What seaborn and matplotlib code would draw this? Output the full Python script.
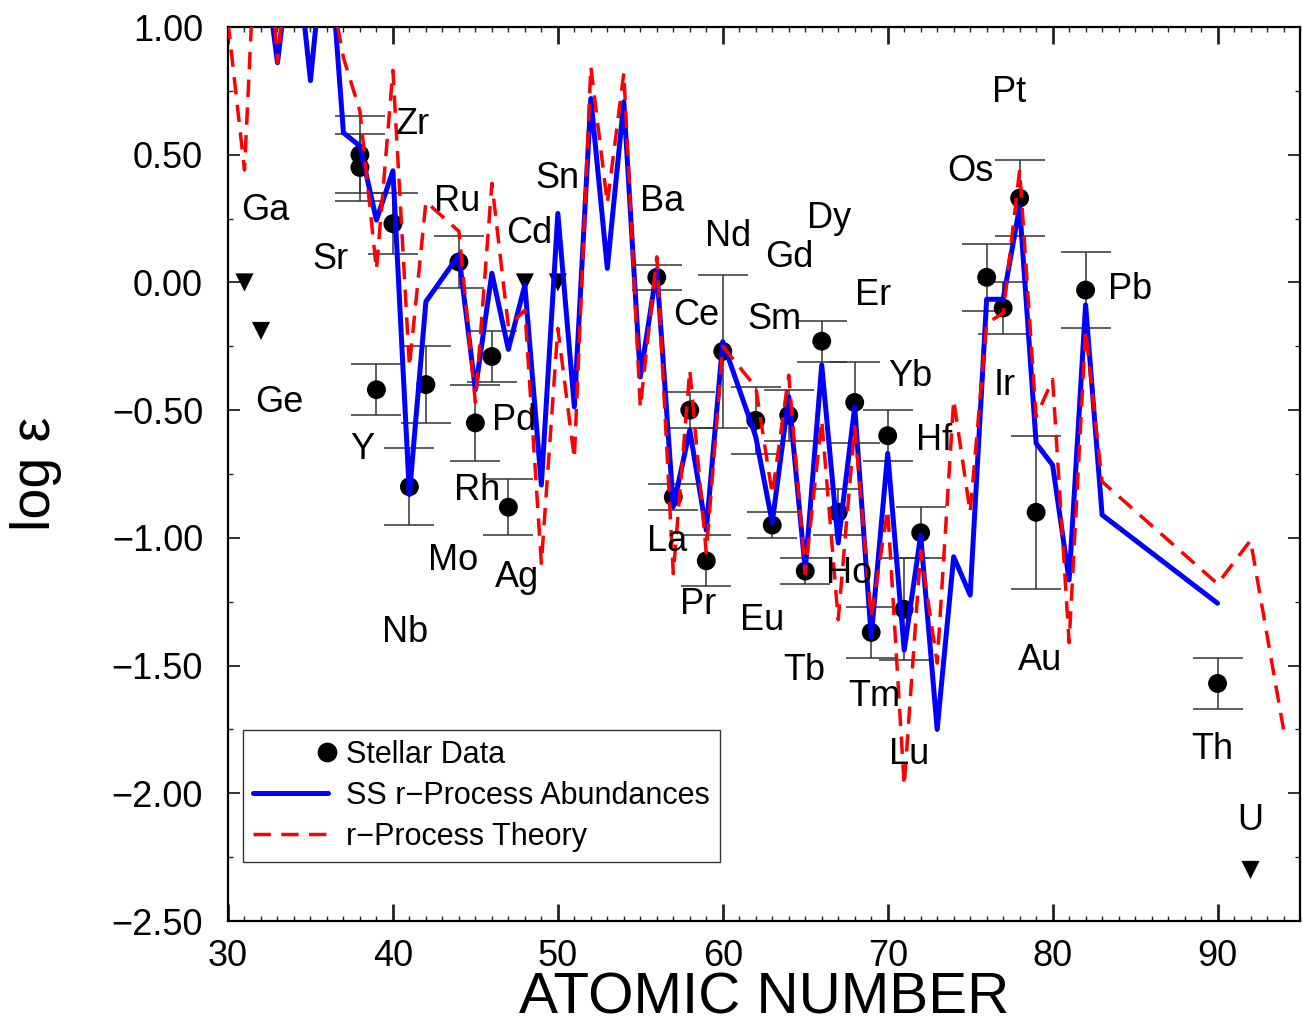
import numpy as np
import pandas as pd
import matplotlib
matplotlib.use("Agg")
import matplotlib.pyplot as plt
import seaborn as sns
from matplotlib.lines import Line2D
from matplotlib.legend_handler import HandlerLine2D
from matplotlib.ticker import MultipleLocator, FuncFormatter

# ---------------- data ----------------
# stellar abundances with error bars
star_z = [38, 38, 39, 40, 41, 42, 44, 45, 46, 47, 56, 57, 58, 59, 60, 62, 63, 64,
          65, 66, 67, 68, 69, 70, 71, 72, 76, 77, 78, 79, 82, 90]
star_val = [0.50, 0.45, -0.42, 0.23, -0.80, -0.40, 0.08, -0.55, -0.29, -0.88,
            0.02, -0.84, -0.50, -1.09, -0.27, -0.54, -0.95, -0.52, -1.13, -0.23,
            -0.90, -0.47, -1.37, -0.60, -1.28, -0.98, 0.02, -0.10, 0.33, -0.90,
            -0.03, -1.57]
star_err = [0.15, 0.13, 0.10, 0.12, 0.15, 0.15, 0.10, 0.15, 0.10, 0.11,
            0.05, 0.05, 0.07, 0.10, 0.30, 0.13, 0.05, 0.10, 0.05, 0.08,
            0.09, 0.16, 0.10, 0.10, 0.20, 0.10, 0.13, 0.10, 0.15, 0.30,
            0.15, 0.10]

# upper limits
limit_z = [31, 32, 48, 50, 92]
limit_val = [0.00, -0.19, 0.00, 0.00, -2.30]

# solar-system r-process abundances
ss_z = [32, 33, 34, 35, 36, 37, 38, 39, 40, 41, 42, 44, 45, 46, 47, 48, 49, 50,
        51, 52, 53, 54, 55, 56, 57, 58, 59, 60, 62, 63, 64, 65, 66, 67, 68, 69,
        70, 71, 72, 73, 74, 75, 76, 77, 78, 79, 80, 81, 82, 83, 90]
ss_val = [1.36, 0.86, 1.40, 0.79, 1.45, 0.586, 0.534, 0.244, 0.437, -0.83,
          -0.075, 0.107, -0.42, 0.036, -0.262, -0.01, -0.793, 0.27, -0.487,
          0.72, 0.055, 0.707, -0.37, 0.049, -0.878, -0.578, -0.97, -0.232,
          -0.604, -0.94, -0.447, -1.126, -0.323, -1.02, -0.487, -1.387, -0.669,
          -1.44, -0.99, -1.75, -1.074, -1.224, -0.066, -0.066, 0.296, -0.63,
          -0.715, -1.165, -0.088, -0.91, -1.256]

# r-process theory
th_z = [30, 31, 32, 33, 34, 35, 36, 37, 38, 39, 40, 41, 42, 44, 45, 46, 47, 48,
        49, 50, 51, 52, 53, 54, 55, 56, 57, 58, 59, 60, 61, 62, 63, 64, 65, 66,
        67, 68, 69, 70, 71, 72, 73, 74, 75, 76, 77, 78, 79, 80, 81, 82, 83, 90,
        92, 94]
th_val = [1.02, 0.44, 1.81, 0.86, 1.50, 1.30, 1.23, 0.88, 0.67, 0.05, 0.83,
          -0.33, 0.316, 0.20, -0.47, 0.388, -0.173, -0.108, -1.10, -0.18, -0.69,
          0.845, 0.31, 0.82, -0.49, 0.10, -1.14, -0.343, -1.06, -0.25, -0.33,
          -0.41, -0.83, -0.363, -1.14, -0.54, -1.32, -0.565, -1.31, -0.89, -1.97,
          -1.05, -1.49, -0.46, -0.90, -0.16, -0.12, 0.44, -0.526, -0.38, -1.41,
          -0.19, -0.78, -1.18, -1.01, -1.75]

# element labels
elem_names = ["Ga", "Ge", "Sr", "Y", "Zr", "Nb", "Mo", "Ru", "Rh", "Pd", "Ag",
              "Cd", "Sn", "Ba", "La", "Ce", "Pr", "Nd", "Sm", "Eu", "Gd", "Tb",
              "Dy", "Ho", "Er", "Tm", "Yb", "Lu", "Hf", "Os", "Ir", "Pt", "Au",
              "Pb", "Th", "U"]
elem_label_x = [32.24, 33.09, 36.23, 38.11, 41.2, 40.71, 43.68, 43.92, 45.13,
                47.37, 47.55, 48.28, 49.98, 56.33, 56.63, 58.39, 58.51, 60.33,
                63.11, 62.38, 64.02, 64.93, 66.44, 67.65, 69.1, 69.16, 71.34,
                71.28, 72.8, 75.04, 77.09, 77.34, 79.21, 84.72, 89.69, 91.99]
elem_label_y = [0.28, -0.47, 0.088, -0.655, 0.62, -1.37, -1.087, 0.315, -0.813,
                -0.539, -1.157, 0.193, 0.405, 0.315, -1.013, -0.128, -1.26, 0.178,
                -0.147, -1.322, 0.096, -1.518, 0.252, -1.138, -0.053, -1.623,
                -0.367, -1.85, -0.617, 0.436, -0.402, 0.745, -1.482, -0.026,
                -1.827, -2.105]

# ---------------- plot ----------------
sns.set_theme(style="ticks")
plt.rcParams["font.family"] = ["Liberation Sans", "DejaVu Sans"]
plt.rcParams["axes.unicode_minus"] = True
plt.rcParams["text.color"] = "black"
plt.rcParams["axes.labelcolor"] = "black"
plt.rcParams["xtick.color"] = "black"
plt.rcParams["ytick.color"] = "black"

W, H = 1302, 1025
fig = plt.figure(figsize=(W / 100, H / 100), dpi=100)
ax = fig.add_axes([228 / W, 1 - 921 / H, (1300 - 228) / W, (921 - 27) / H])

star_df = pd.DataFrame({"Z": star_z, "val": star_val, "err": star_err})
lim_df = pd.DataFrame({"Z": limit_z, "val": limit_val})
ss_df = pd.DataFrame({"Z": ss_z, "val": ss_val})
th_df = pd.DataFrame({"Z": th_z, "val": th_val})

DASH = (0, (5.0, 3.0))

ax.errorbar(star_df["Z"], star_df["val"], yerr=star_df["err"], fmt="none",
            ecolor="#333333", elinewidth=1.1, capsize=18, capthick=1.1, zorder=2)
sns.scatterplot(data=star_df, x="Z", y="val", ax=ax, color="black", s=185,
                marker="o", edgecolor="none", zorder=3, legend=False)
sns.scatterplot(data=lim_df, x="Z", y="val", ax=ax, color="black", s=170,
                marker="v", edgecolor="none", zorder=3, legend=False)
sns.lineplot(data=ss_df, x="Z", y="val", ax=ax, color="#0000ff", lw=3.6,
             estimator=None, sort=False, zorder=4, legend=False)
sns.lineplot(data=th_df, x="Z", y="val", ax=ax, color="#ff0000", lw=2.5,
             estimator=None, sort=False, zorder=5, legend=False,
             linestyle=DASH)

for name, lx, ly in zip(elem_names, elem_label_x, elem_label_y):
    ax.text(lx, ly, name, ha="center", va="center", fontsize=26, color="black",
            zorder=6)

ax.set_xlim(30, 95)
ax.set_ylim(-2.5, 1.0)

ax.xaxis.set_major_locator(MultipleLocator(10))
ax.xaxis.set_minor_locator(MultipleLocator(1))
ax.yaxis.set_major_locator(MultipleLocator(0.5))
ax.yaxis.set_minor_locator(MultipleLocator(0.25))
ax.yaxis.set_major_formatter(FuncFormatter(lambda v, p: f"{v:.2f}".replace("-", "\u2212")))
ax.xaxis.set_major_formatter(FuncFormatter(lambda v, p: f"{v:.0f}"))

ax.tick_params(which="both", direction="in", top=True, right=True, colors="#222222",
               labelcolor="black")
ax.tick_params(axis="x", which="major", length=12, width=2, labelsize=26, pad=13)
ax.tick_params(axis="y", which="major", length=8.5, width=1.3, labelsize=26, pad=18)
ax.tick_params(which="minor", length=3.6, width=1)

for s in ax.spines.values():
    s.set_color("black")
    s.set_linewidth(1.6)
    s.set_visible(True)

ax.set_xlabel("ATOMIC NUMBER", fontsize=42, color="black")
ax.xaxis.label.set_va("center")
ax.xaxis.set_label_coords(0.5, (921 - 999) / 894)
ax.set_ylabel("log \u03b5", fontsize=40, color="black")
ax.yaxis.label.set_va("center")
ax.yaxis.set_label_coords((36 - 228) / 1072, 0.5)


class RightMarker(HandlerLine2D):
    def get_xdata(self, legend, xdescent, ydescent, width, height, fontsize):
        xr = -xdescent + width * 0.99
        return [xr, xr], [xr]


h_star = Line2D([], [], marker="o", color="black", ls="none", markersize=13)
h_ss = Line2D([], [], color="#0000ff", lw=3.6)
h_th = Line2D([], [], color="#ff0000", lw=2.5, ls=DASH)
leg = ax.legend([h_star, h_ss, h_th],
                ["Stellar Data", "SS r\u2212Process Abundances", "r\u2212Process Theory"],
                handler_map={h_star: RightMarker(numpoints=2)},
                loc="lower left", bbox_to_anchor=((243 - 228) / 1072, (921 - 862) / 894),
                borderaxespad=0, fontsize=22, handlelength=2.45, handletextpad=0.6,
                labelspacing=0.36, borderpad=0.33, fancybox=False, framealpha=1,
                edgecolor="#333333")
leg.get_frame().set_linewidth(1.0)
for t in leg.get_texts():
    t.set_color("black")

fig.savefig("out.png", dpi=100)
